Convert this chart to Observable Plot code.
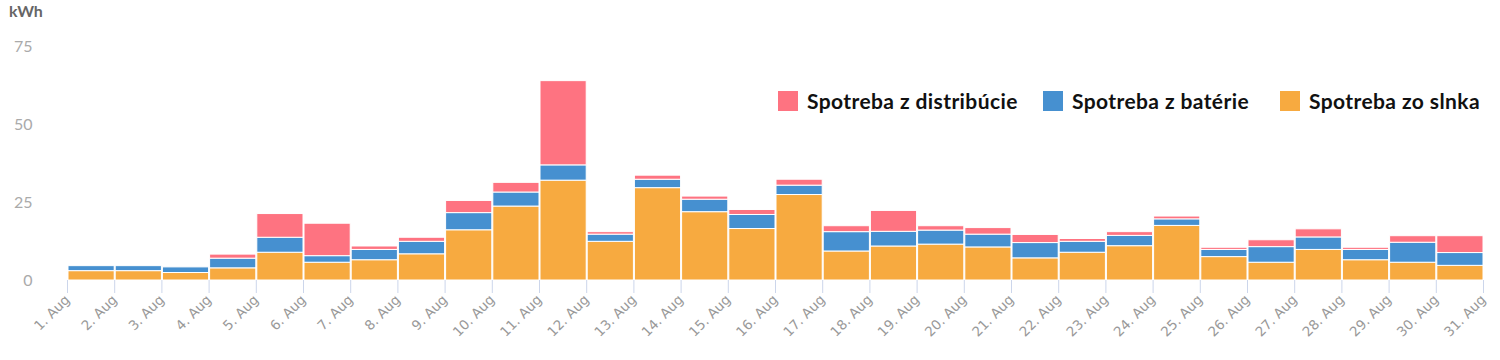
<!DOCTYPE html>
<html>
<head>
<meta charset="utf-8">
<script src="https://cdn.jsdelivr.net/npm/d3@7"></script>
<script src="https://cdn.jsdelivr.net/npm/@observablehq/plot@0.6"></script>
<style>
  html, body { margin: 0; padding: 0; background: #fff; }
  #wrap { position: relative; width: 1500px; height: 360px; font-family: Lato, "Open Sans", sans-serif; }
  #unit { position: absolute; left: 9px; top: 1px; font-size: 16px; font-weight: 700; color: #666; }
  .leg { position: absolute; top: 88px; display: flex; align-items: center; font-size: 21px; font-weight: 700; color: #111; white-space: nowrap; letter-spacing: 0.4px; }
  .sw { width: 20px; height: 20px; margin-right: 9px; }
</style>
</head>
<body>
<div id="wrap">
  <div id="unit">kWh</div>
</div>
<script>
// ---- data ----
const days = d3.range(1, 31); // 1..30 August
const series = ["Spotreba zo slnka", "Spotreba z batérie", "Spotreba z distribúcie"];
const colors = ["#f7aa40", "#4690d0", "#fe7381"];
const sun  = [3.0,3.0,2.4,3.9,8.9,5.7,6.5,8.4,16.1,23.7,32.0,12.4,29.6,21.9,16.5,27.4,9.3,10.9,11.5,10.6,7.1,8.9,11.0,17.5,7.5,5.7,9.8,6.5,5.7,4.7];
const bat  = [1.6,1.6,1.8,3.1,4.8,2.1,3.3,4.0,5.5,4.5,4.9,2.3,2.7,4.0,4.5,3.0,6.2,4.7,4.5,4.1,4.9,3.5,3.3,2.1,2.3,5.0,4.0,3.3,6.4,4.1];
const grid = [0.0,0.0,0.0,1.3,7.6,10.4,1.1,1.3,3.9,3.1,27.0,0.8,1.3,1.0,1.6,1.9,1.9,6.7,1.4,2.1,2.6,0.9,1.2,0.9,0.7,2.2,2.6,0.7,2.1,5.4];
const yTicks = [0, 25, 50, 75];
const legendOrder = ["Spotreba z distribúcie", "Spotreba z batérie", "Spotreba zo slnka"];

const rows = [];
days.forEach((d, i) => {
  const date = new Date(Date.UTC(2023, 7, d));
  rows.push({date, series: series[0], value: sun[i]});
  rows.push({date, series: series[1], value: bat[i]});
  rows.push({date, series: series[2], value: grid[i]});
});

const xTicks = d3.utcDay.range(new Date(Date.UTC(2023,7,1)), new Date(Date.UTC(2023,7,32)));

const chart = Plot.plot({
  width: 1500,
  height: 360,
  marginTop: 46,
  marginBottom: 80,
  marginLeft: 67,
  marginRight: 17,
  style: {fontFamily: "Lato, 'Open Sans', sans-serif", background: "transparent"},
  x: {type: "utc", domain: [new Date(Date.UTC(2023,7,1)), new Date(Date.UTC(2023,7,31))]},
  y: {domain: [0, 75]},
  color: {domain: series, range: colors},
  marks: [
    Plot.rectY(rows, Plot.stackY({
      x: "date", interval: "day", y: "value", fill: "series",
      order: series, stroke: "white", strokeWidth: 1
    })),
    Plot.axisY({ticks: yTicks, tickSize: 0, tickPadding: 35, label: null, fontSize: 16, fill: "#aaa"}),
    Plot.axisX({ticks: xTicks, tickSize: 13, stroke: "#ccd6eb", fill: "#999", tickRotate: -45,
      tickFormat: d => `${d.getUTCDate()}. Aug`, fontSize: 13.5, fontFamily: "'DejaVu Sans', sans-serif",
      label: null, tickPadding: 4})
  ]
});
document.getElementById("wrap").appendChild(chart);

const legPos = [778, 1043, 1280];
legendOrder.forEach((name, i) => {
  const el = document.createElement("div");
  el.className = "leg";
  el.style.left = legPos[i] + "px";
  const sw = document.createElement("div");
  sw.className = "sw";
  sw.style.background = colors[series.indexOf(name)];
  el.appendChild(sw);
  el.appendChild(document.createTextNode(name));
  document.getElementById("wrap").appendChild(el);
});
</script>
</body>
</html>
